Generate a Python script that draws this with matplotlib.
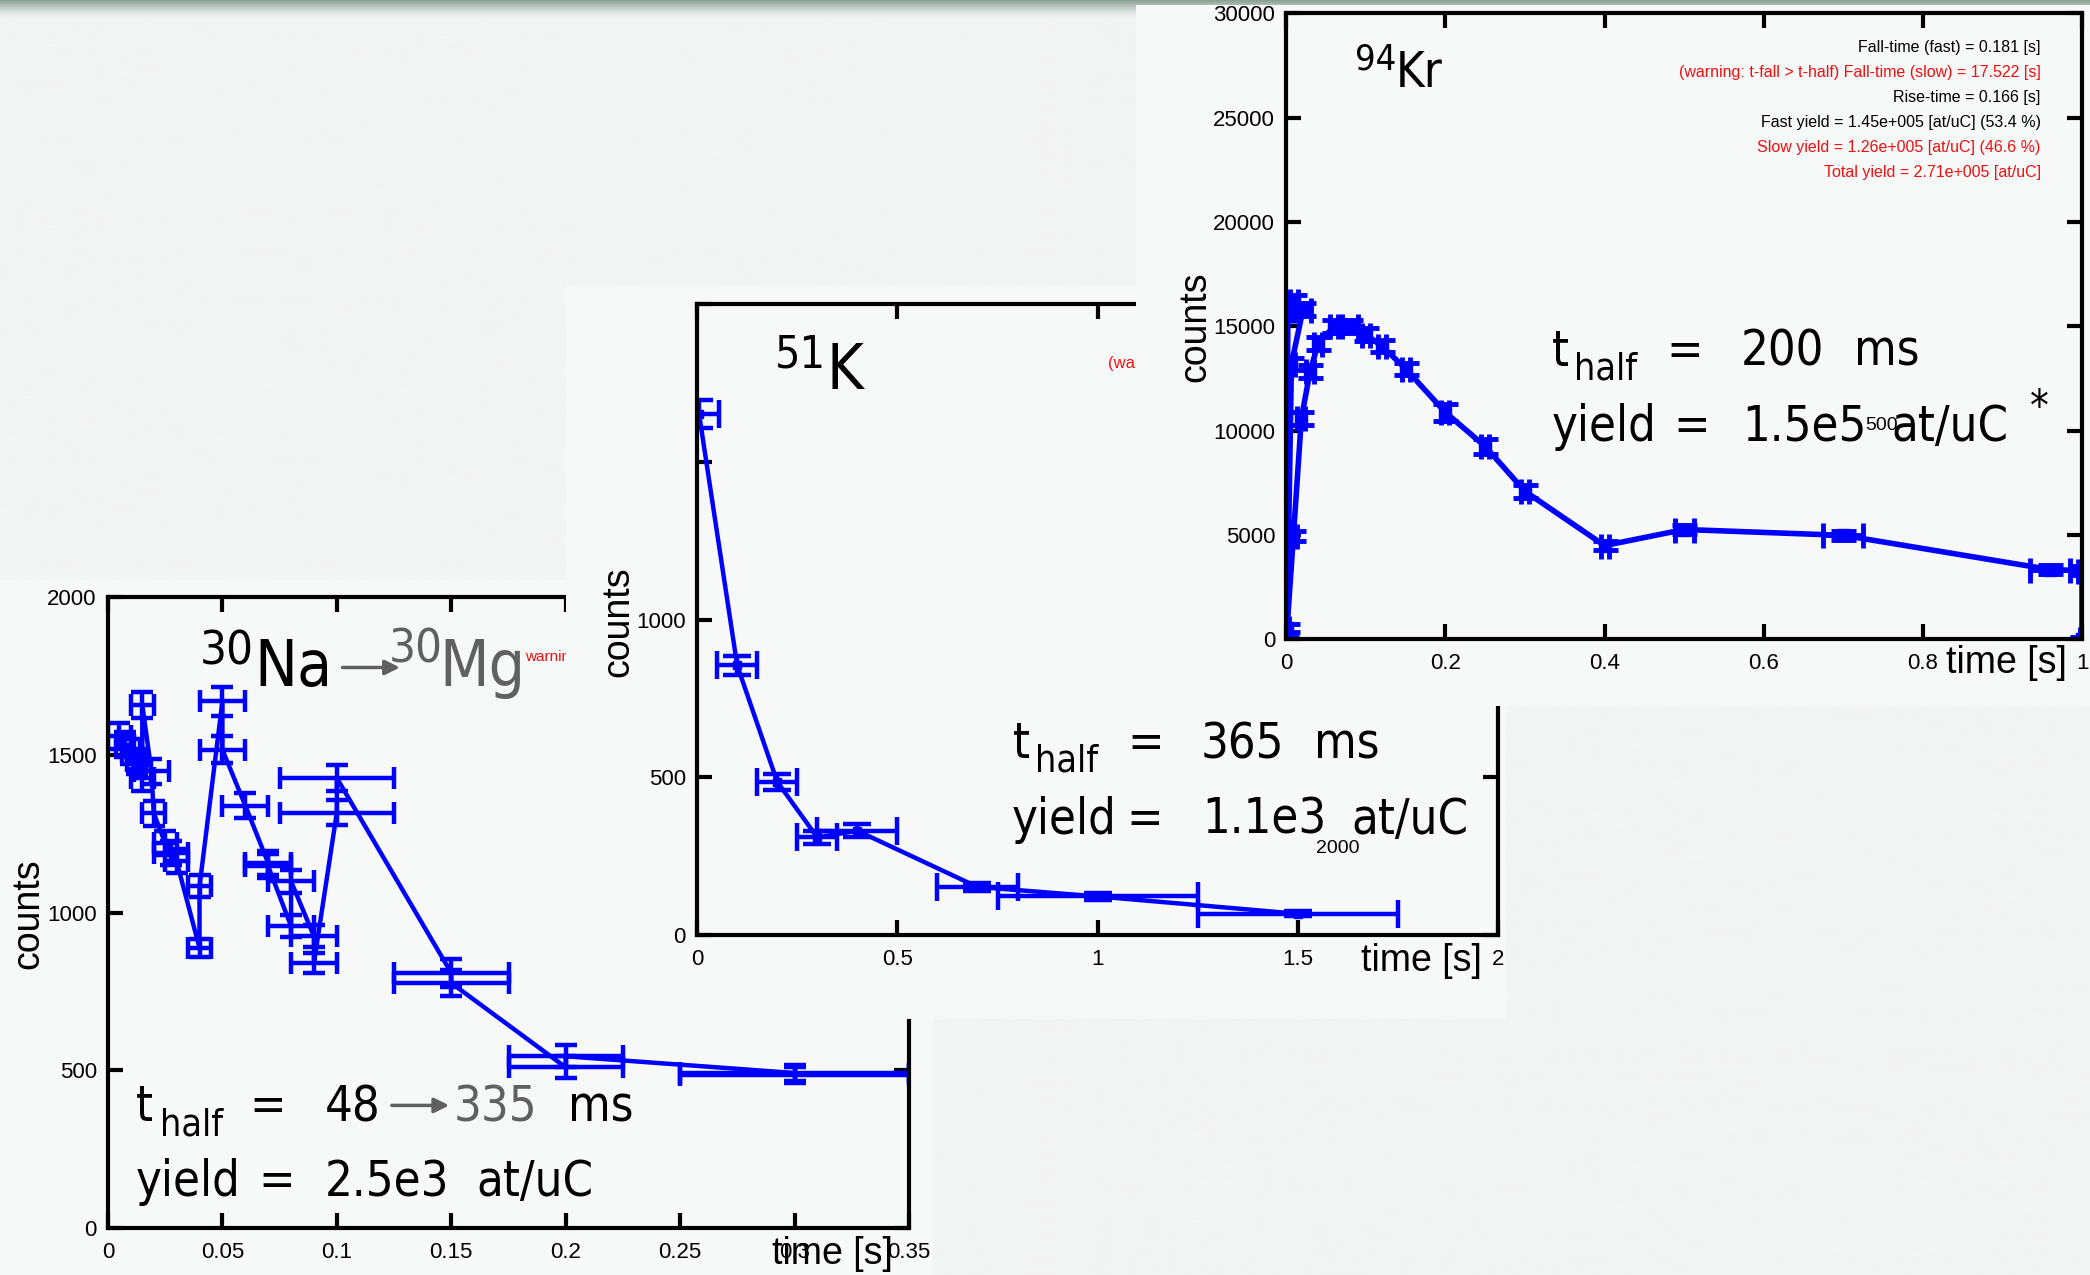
import numpy as np
import matplotlib
matplotlib.use('Agg')
import matplotlib.pyplot as plt
from matplotlib import font_manager as fm
from matplotlib.patches import Rectangle

# ---- 30Na -> 30Mg decay curve
na_time = [0.005, 0.0075, 0.01, 0.0125, 0.015, 0.015, 0.019, 0.02, 0.025, 0.0275,
           0.03, 0.04, 0.04, 0.05, 0.05, 0.06, 0.07, 0.07, 0.08, 0.08,
           0.09, 0.09, 0.1, 0.1, 0.15, 0.15, 0.2, 0.2, 0.3, 0.3]
na_counts = [1560, 1532, 1510, 1479, 1426, 1658, 1447, 1315, 1220, 1189,
             1162, 888, 1083, 1669, 1516, 1339, 1157, 1147, 957, 1099,
             925, 841, 1317, 1426, 809, 777, 510, 545, 492, 485]
na_terr = [0.005, 0.004, 0.004, 0.004, 0.005, 0.005, 0.0075, 0.005, 0.005, 0.0075,
           0.005, 0.005, 0.005, 0.01, 0.01, 0.01, 0.01, 0.01, 0.01, 0.01,
           0.01, 0.01, 0.025, 0.025, 0.025, 0.025, 0.025, 0.025, 0.05, 0.05]
na_cerr = [42, 40, 40, 40, 42, 42, 40, 40, 38, 38,
           38, 30, 35, 45, 42, 40, 38, 38, 35, 36,
           35, 32, 40, 40, 45, 40, 35, 35, 25, 25]
na_xticks = [0, 0.05, 0.1, 0.15, 0.2, 0.25, 0.3, 0.35]
na_xlabels = ['0', '0.05', '0.1', '0.15', '0.2', '0.25', '0.3', '0.35']
na_yticks = [0, 500, 1000, 1500, 2000]

# ---- 51K decay curve
k_time = [0.005, 0.1, 0.2, 0.3, 0.4, 0.7, 1.0, 1.5]
k_counts = [1650, 855, 486, 310, 331, 153, 123, 68]
k_terr = [0.05, 0.05, 0.05, 0.05, 0.1, 0.1, 0.25, 0.25]
k_cerr = [45, 30, 25, 20, 20, 12, 10, 8]
k_xticks = [0, 0.5, 1, 1.5, 2]
k_xlabels = ['0', '0.5', '1', '1.5', '2']
k_yticks = [0, 500, 1000, 1500, 2000]
k_ylabels = ['0', '500', '1000', '', '']

# ---- 94Kr rise/fall curve
kr_time = [0.0, 0.002, 0.01, 0.021, 0.0065, 0.001, 0.009, 0.019, 0.03, 0.04,
           0.06, 0.08, 0.1, 0.12, 0.15, 0.2, 0.25, 0.3, 0.4, 0.5,
           0.7, 0.96, 1.0, 1.0]
kr_counts = [0, 15800, 16200, 15800, 13200, 560, 4950, 10600, 12850, 14170,
             15000, 15000, 14600, 14070, 12970, 10880, 9250, 7100, 4500, 5270,
             4990, 3350, 3300, 0]
kr_terr = [0.002, 0.004, 0.005, 0.01, 0.005, 0.002, 0.005, 0.005, 0.005, 0.005,
           0.005, 0.01, 0.005, 0.005, 0.005, 0.005, 0.005, 0.005, 0.005, 0.012,
           0.025, 0.025, 0.005, 0.002]
kr_cerr = [100, 300, 300, 300, 300, 200, 250, 300, 300, 300,
           300, 300, 300, 300, 300, 400, 350, 300, 200, 200,
           200, 200, 200, 100]
kr_xticks = [0, 0.2, 0.4, 0.6, 0.8, 1]
kr_xlabels = ['0', '0.2', '0.4', '0.6', '0.8', '1']
kr_yticks = [0, 5000, 10000, 15000, 20000, 25000, 30000]
kr_info = ['Fall-time (fast) = 0.181 [s]',
           '(warning: t-fall > t-half) Fall-time (slow) = 17.522 [s]',
           'Rise-time = 0.166 [s]',
           'Fast yield = 1.45e+005 [at/uC] (53.4 %)',
           'Slow yield = 1.26e+005 [at/uC] (46.6 %)',
           'Total yield = 2.71e+005 [at/uC]']
kr_info_red = [False, True, False, False, True, True]


def font_path(name, **kw):
    try:
        return fm.findfont(fm.FontProperties(family=name, **kw), fallback_to_default=False)
    except ValueError:
        return None


NARROW = 'Liberation Sans Narrow' if font_path('Liberation Sans Narrow') else 'Liberation Sans'
ARIAL = 'Liberation Sans'
cond = font_path('DejaVu Sans', stretch='condensed')
if cond and 'Condensed' in cond:
    BIG, BIG_STRETCH = 'DejaVu Sans', 'condensed'
else:
    BIG, BIG_STRETCH = 'Liberation Sans', 'normal'

plt.rcParams['font.family'] = [NARROW, 'DejaVu Sans']

BLUE = '#0000ff'
RED = '#f01010'
GRAY = '#606060'
SLIDE_BG = '#f3f4f4'
IMAGE_BG = '#f7f8f8'

# layout is measured on a 1568 x 957 frame
W, H = 1568.0, 957.0


def fxy(x, y):
    return x / W, 1 - y / H


def fbox(left, top, right, bottom):
    return [left / W, 1 - bottom / H, (right - left) / W, (bottom - top) / H]


fig = plt.figure(figsize=(20.9, 12.75), dpi=100, facecolor=SLIDE_BG)

# slide background with the darker strip along the top
bg = fig.add_axes([0, 0, 1, 1], zorder=-10)
bg.axis('off')
rows = np.arange(int(H))
a = np.clip(1 - rows / 14.0, 0, 1) ** 1.6
top_col = np.array([140, 160, 150]) / 255.0
base_col = np.array([243, 244, 244]) / 255.0
grad = base_col[None, :] * (1 - a[:, None]) + top_col[None, :] * a[:, None]
bg.imshow(grad[:, None, :], extent=[0, 1, 0, 1], aspect='auto')
bg.set_xlim(0, 1)
bg.set_ylim(0, 1)


def panel(image_box, axes_box, z):
    l, t, r, b = image_box
    fig.add_artist(Rectangle((l / W, 1 - b / H), (r - l) / W, (b - t) / H,
                             transform=fig.transFigure, facecolor=IMAGE_BG,
                             edgecolor='none', zorder=z))
    ax = fig.add_axes(fbox(*axes_box), zorder=z + 0.5)
    ax.patch.set_visible(False)
    for s in ax.spines.values():
        s.set_linewidth(3)
    ax.tick_params(direction='in', length=11, width=3, top=True, right=True,
                   labelsize=16, pad=8)
    ax.tick_params(axis='x', pad=10)
    return ax


def put(ax, x, y, s, size, family=BIG, color='black', **kw):
    if family == BIG:
        kw.setdefault('fontstretch', BIG_STRETCH)
    ax.text(*fxy(x, y), s, transform=fig.transFigure, fontsize=size,
            family=family, color=color, **{'va': 'baseline', 'ha': 'left', **kw})


def arrow(ax, x0, x1, y):
    ax.annotate('', xy=fxy(x1, y), xytext=fxy(x0, y), xycoords='figure fraction',
                textcoords='figure fraction',
                arrowprops=dict(arrowstyle='-|>', color=GRAY, lw=2.5,
                                mutation_scale=22, shrinkA=0, shrinkB=0))


def labels(ax, ylab_xy, xlab_xy):
    put(ax, ylab_xy[0], ylab_xy[1], 'counts', 27, family=ARIAL,
        rotation=90, va='center', ha='center')
    put(ax, xlab_xy[0], xlab_xy[1], 'time [s]', 27, family=ARIAL, ha='right')


# ---------------- 30Na panel (bottom layer)
na = panel((0, 435, 700, 957), (81, 448, 682, 922), 1)
na.errorbar(na_time, na_counts, xerr=na_terr, yerr=na_cerr, color=BLUE, lw=3.2,
            elinewidth=3.2, capsize=8, capthick=3.2)
na.set_xlim(0, 0.35)
na.set_ylim(0, 2000)
na.set_xticks(na_xticks, na_xlabels)
na.set_yticks(na_yticks)
put(na, 150, 499, '30', 34)
put(na, 190.5, 515, 'Na', 46)
arrow(na, 257, 300, 501)
put(na, 292, 497, '30', 34, color=GRAY)
put(na, 330, 515, 'Mg', 46, color=GRAY)
put(na, 394, 496, 'warning', 11, family=ARIAL, color=RED)
put(na, 102, 841.5, 't', 35)
put(na, 119.7, 852, 'half', 27)
put(na, 187, 841.5, '=', 35)
put(na, 244, 841.5, '48', 35)
arrow(na, 294, 337, 829.7)
put(na, 340, 841.5, '335', 35, color=GRAY)
put(na, 426, 841.5, 'ms', 35)
put(na, 102, 898, 'yield', 35)
put(na, 194, 898, '=', 35)
put(na, 244, 898, '2.5e3', 35)
put(na, 357.5, 898, 'at/uC', 35)
labels(na, (21, 686), (670, 949))

# ---------------- 51K panel (middle layer)
k = panel((425, 215, 1130, 765), (523, 228, 1124, 702), 3)
k.errorbar(k_time, k_counts, xerr=k_terr, yerr=k_cerr, color=BLUE, lw=3.2,
           elinewidth=3.2, capsize=10, capthick=3.2, marker='s', ms=6)
k.set_xlim(0, 2)
k.set_ylim(0, 2000)
k.set_xticks(k_xticks, k_xlabels)
k.set_yticks(k_yticks, k_ylabels)
put(k, 581.5, 276, '51', 32)
put(k, 620, 292.3, 'K', 45)
put(k, 831, 276, '(warning', 12, family=ARIAL, color=RED)
put(k, 760, 569, 't', 35)
put(k, 776.5, 579, 'half', 27)
put(k, 845.5, 569, '=', 35)
put(k, 901, 569, '365', 35)
put(k, 986, 569, 'ms', 35)
put(k, 759, 625.7, 'yield', 35)
put(k, 845, 625.7, '=', 35)
put(k, 902, 625.7, '1.1e3', 35)
put(k, 987, 640.5, '2000', 14, family=NARROW)
put(k, 1014, 625.7, 'at/uC', 35)
labels(k, (464, 467), (1112, 729))

# ---------------- 94Kr panel (top layer)
kr = panel((852, 4, 1568, 530), (965, 10, 1562, 480), 5)
kr.errorbar(kr_time, kr_counts, xerr=kr_terr, yerr=kr_cerr, color=BLUE, lw=4,
            elinewidth=3.5, capsize=9, capthick=3.5, marker='s', ms=8)
kr.set_xlim(0, 1)
kr.set_ylim(0, 30000)
kr.set_xticks(kr_xticks, kr_xlabels)
kr.set_yticks(kr_yticks)
put(kr, 1016.5, 52, '94', 26)
put(kr, 1047, 65.3, 'Kr', 35)
for i, (line, red) in enumerate(zip(kr_info, kr_info_red)):
    put(kr, 1531, 38.8 + 18.75 * i, line, 11.5, family=ARIAL,
        color=RED if red else 'black', ha='right')
put(kr, 1164, 274.6, 't', 35)
put(kr, 1180.6, 284.7, 'half', 27)
put(kr, 1250, 274.6, '=', 35)
put(kr, 1305.7, 274.6, '200', 35)
put(kr, 1390.7, 274.6, 'ms', 35)
put(kr, 1164, 331, 'yield', 35)
put(kr, 1255.5, 331, '=', 35)
put(kr, 1307, 331, '1.5e5', 35)
put(kr, 1399.5, 323, '500', 14, family=NARROW)
put(kr, 1419.3, 331, 'at/uC', 35)
put(kr, 1523, 306, '*', 30, va='center')
labels(kr, (897, 245), (1551, 505))

fig.savefig('out.png', dpi=100, facecolor=fig.get_facecolor())
